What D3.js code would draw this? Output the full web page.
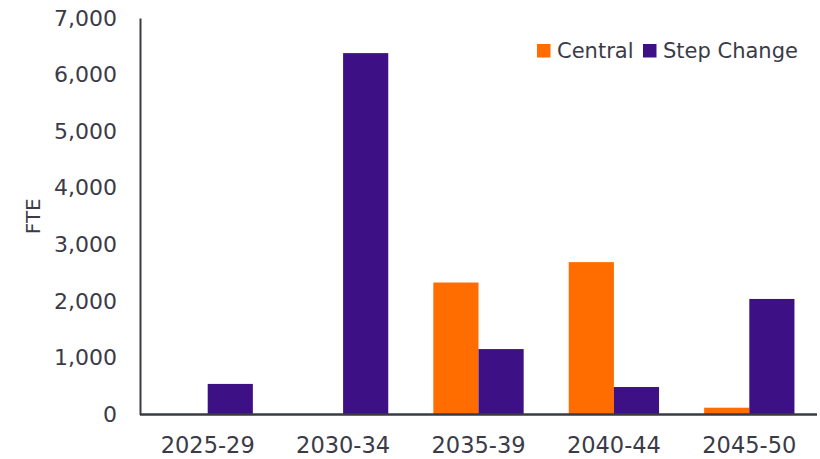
<!DOCTYPE html>
<html>
<head>
<meta charset="utf-8">
<script src="https://cdn.jsdelivr.net/npm/d3@7"></script>
<style>
  html, body { margin: 0; padding: 0; background: #fff; }
  svg { display: block; font-family: "DejaVu Sans", sans-serif; }
</style>
</head>
<body>
<svg id="chart" width="820" height="459"></svg>
<script>
const categories = ["2025-29", "2030-34", "2035-39", "2040-44", "2045-50"];
const seriesNames = ["Central", "Step Change"];
const centralValues = [0, 0, 2330, 2690, 120];
const stepChangeValues = [540, 6380, 1155, 485, 2040];
const yTicks = [0, 1000, 2000, 3000, 4000, 5000, 6000, 7000];
const colors = ["#FF6D00", "#3E1086"];
const textColor = "#3b3b48";

const svg = d3.select("#chart");
const margin = { left: 140, right: 3, top: 18, bottom: 44.5 };
const W = 820, H = 459;

const x = d3.scaleBand().domain(categories)
  .range([margin.left, W - margin.right])
  .paddingInner(0.333).paddingOuter(0.1665);
const xs = d3.scaleBand().domain(seriesNames).range([0, x.bandwidth()]);
const y = d3.scaleLinear().domain([0, 7000]).range([H - margin.bottom, margin.top]);

const data = categories.map((c, i) => ({ cat: c, values: [centralValues[i], stepChangeValues[i]] }));

// bars
const g = svg.append("g");
data.forEach(d => {
  d.values.forEach((v, j) => {
    if (v <= 0) return;
    g.append("rect")
      .attr("x", x(d.cat) + xs(seriesNames[j]))
      .attr("width", xs.bandwidth())
      .attr("y", y(v))
      .attr("height", y(0) - y(v))
      .attr("fill", colors[j]);
  });
});

// y axis
const yAxis = d3.axisLeft(y).tickValues(yTicks).tickSize(0).tickPadding(23)
  .tickFormat(d3.format(","));
const ya = svg.append("g").attr("transform", `translate(${margin.left},0)`).call(yAxis);
ya.select(".domain").attr("stroke", "#3a3a44").attr("stroke-width", 2);
ya.selectAll("text").attr("fill", textColor).style("font-size", "22px")
  .style("font-family", "DejaVu Sans, sans-serif");

// x axis
const xAxis = d3.axisBottom(x).tickSize(0).tickPadding(23);
const xa = svg.append("g").attr("transform", `translate(0,${y(0)})`).call(xAxis);
xa.select(".domain").attr("stroke", "#3a3a44").attr("stroke-width", 2.5)
  .attr("d", `M${margin.left},0H${W - margin.right}`);
xa.selectAll("text").attr("fill", textColor).style("font-size", "22.5px")
  .style("font-family", "DejaVu Sans, sans-serif");

// y label
svg.append("text")
  .attr("transform", `translate(40,${(y(0) + y(7000)) / 2}) rotate(-90)`)
  .attr("text-anchor", "middle")
  .attr("fill", textColor)
  .style("font-size", "20px")
  .text("FTE");

// legend
const legendItems = [
  { name: seriesNames[0], color: colors[0], x: 537 },
  { name: seriesNames[1], color: colors[1], x: 643 }
];
const lg = svg.append("g");
legendItems.forEach(it => {
  lg.append("rect").attr("x", it.x).attr("y", 44).attr("width", 13.5).attr("height", 13.5).attr("fill", it.color);
  lg.append("text").attr("x", it.x + 20).attr("y", 57.5)
    .attr("fill", textColor).style("font-size", "21px").text(it.name);
});
</script>
</body>
</html>
